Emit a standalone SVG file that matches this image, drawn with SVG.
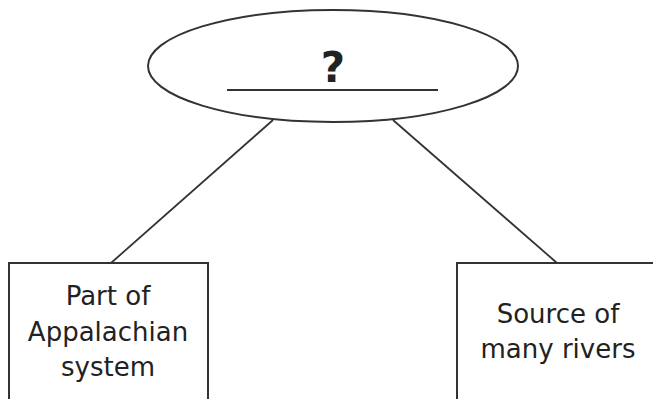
<svg xmlns="http://www.w3.org/2000/svg" width="653" height="399" viewBox="0 0 653 399">
<style>
.s{fill:#fff;stroke:#333;stroke-width:2}
.c{stroke:#333;stroke-width:1.8;fill:none}
.t{font-family:"DejaVu Sans",Verdana,sans-serif;font-size:26px;fill:#222;text-anchor:middle}
</style>
<rect width="653" height="399" fill="#fff"/>
<g id="connectors">
<line class="c" x1="273" y1="120" x2="111" y2="263"/>
<line class="c" x1="393" y1="120" x2="557" y2="263"/>
</g>
<g id="top">
<ellipse class="s" cx="333" cy="66" rx="185" ry="56"/>
<text x="333" y="82" style="font-family:'DejaVu Sans',Verdana,sans-serif;font-size:42px;font-weight:bold;fill:#222;text-anchor:middle">?</text>
<line x1="227" y1="90" x2="438" y2="90" stroke="#333" stroke-width="2"/>
</g>
<g id="left">
<rect class="s" x="9" y="263" width="199" height="150"/>
<text class="t" x="108" y="305">Part of</text>
<text class="t" x="108" y="341">Appalachian</text>
<text class="t" x="108" y="376">system</text>
</g>
<g id="right">
<rect class="s" x="457" y="263" width="210" height="150"/>
<text class="t" x="558" y="323">Source of</text>
<text class="t" x="558" y="358">many rivers</text>
</g>
</svg>
